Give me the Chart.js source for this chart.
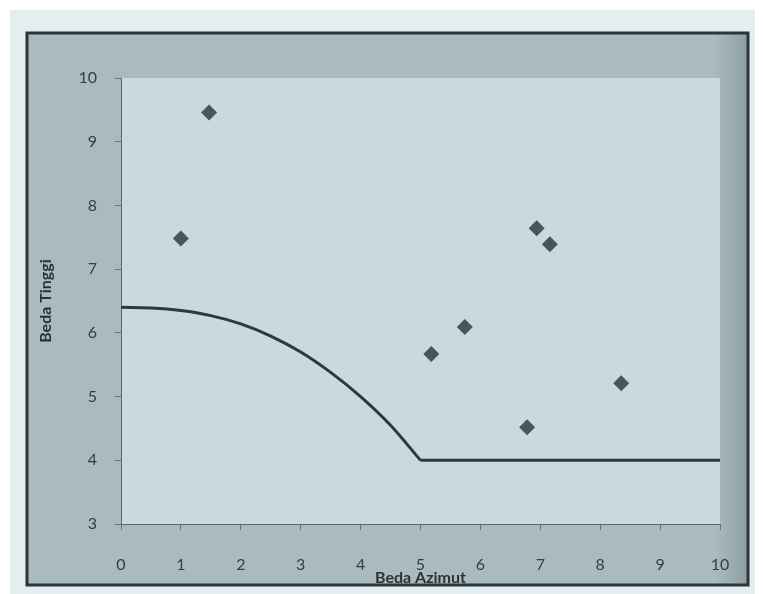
<!DOCTYPE html>
<html>
<head>
<meta charset="utf-8">
<script src="https://cdn.jsdelivr.net/npm/chart.js@4.4.0/dist/chart.umd.min.js"></script>
<style>
  html, body { margin: 0; padding: 0; background: #ffffff; }
  #chart { display: block; }
</style>
</head>
<body>
<canvas id="chart" width="763" height="594"></canvas>
<script>
// measured points (Beda Azimut, Beda Tinggi)
const pointX = [1.0, 1.47, 5.18, 5.74, 6.94, 7.16, 6.78, 8.35];
const pointY = [7.48, 9.46, 5.67, 6.09, 7.64, 7.39, 4.52, 5.21];

// boundary curve
const curveX = [0, 0.5, 1, 1.5, 2, 2.5, 3, 3.5, 4, 4.5, 5];
const curveY = [6.4, 6.39, 6.35, 6.27, 6.14, 5.95, 5.7, 5.38, 5.0, 4.55, 4.0];
const flatX = [5, 10];
const flatY = [4, 4];

const xTicks = [0, 1, 2, 3, 4, 5, 6, 7, 8, 9, 10];
const yTicks = [3, 4, 5, 6, 7, 8, 9, 10];

function toXY(xs, ys) {
  return xs.map((x, i) => ({ x: x, y: ys[i] }));
}

const framePlugin = {
  id: 'frame',
  beforeDraw(chart) {
    const ctx = chart.ctx;
    const a = chart.chartArea;
    ctx.save();
    ctx.fillStyle = '#ffffff';
    ctx.fillRect(0, 0, chart.width, chart.height);
    ctx.fillStyle = '#e3eef0';
    ctx.fillRect(10, 10, 745, 584);
    ctx.fillStyle = '#a9bbbf';
    ctx.fillRect(27, 33, 721, 552);
    // darker band along the right edge of the frame
    const g = ctx.createLinearGradient(715, 0, 748, 0);
    g.addColorStop(0, 'rgba(120,138,143,0)');
    g.addColorStop(1, 'rgba(120,138,143,0.6)');
    ctx.fillStyle = g;
    ctx.fillRect(715, 33, 33, 552);
    ctx.lineWidth = 3;
    ctx.strokeStyle = '#2c3437';
    ctx.strokeRect(27, 33, 721, 552);
    ctx.fillStyle = '#c8dadd';
    ctx.fillRect(a.left, a.top, a.right - a.left, a.bottom - a.top);
    ctx.restore();
  }
};

const ctx = document.getElementById('chart').getContext('2d');
new Chart(ctx, {
  type: 'scatter',
  data: {
    datasets: [
      {
        data: toXY(pointX, pointY),
        pointStyle: 'rectRot',
        pointRadius: 8,
        backgroundColor: '#4a5558',
        borderWidth: 0,
        showLine: false
      },
      {
        data: toXY(curveX, curveY),
        showLine: true,
        pointRadius: 0,
        borderColor: '#2d393d',
        borderWidth: 3,
        cubicInterpolationMode: 'monotone'
      },
      {
        data: toXY(flatX, flatY),
        showLine: true,
        pointRadius: 0,
        borderColor: '#2d393d',
        borderWidth: 3,
        tension: 0
      }
    ]
  },
  options: {
    responsive: false,
    animation: false,
    layout: { padding: { left: 0, top: 78, right: 43, bottom: 0 } },
    plugins: {
      legend: { display: false },
      tooltip: { enabled: false }
    },
    scales: {
      x: {
        type: 'linear',
        min: 0,
        max: 10,
        afterBuildTicks: s => { s.ticks = xTicks.map(v => ({ value: v })); },
        afterFit: s => { s.height = 70; },
        grid: { drawOnChartArea: false, tickLength: 6, color: '#66767a' },
        border: { color: '#5a686c', width: 1 },
        ticks: {
          padding: 25,
          color: '#353e41',
          font: { family: 'Lato', size: 16 }
        },
        title: {
          display: true,
          text: 'Beda Azimut',
          color: '#2b3235',
          font: { family: 'Lato', size: 16, weight: 'bold' },
          padding: { top: 0, bottom: 7 }
        }
      },
      y: {
        min: 3,
        max: 10,
        afterBuildTicks: s => { s.ticks = yTicks.map(v => ({ value: v })); },
        afterFit: s => { s.width = 121; },
        grid: { drawOnChartArea: false, tickLength: 6, color: '#66767a' },
        border: { color: '#5a686c', width: 1 },
        ticks: {
          padding: 18,
          color: '#353e41',
          font: { family: 'Lato', size: 16 }
        },
        title: {
          display: true,
          text: 'Beda Tinggi',
          color: '#2b3235',
          font: { family: 'Lato', size: 16, weight: 'bold' },
          padding: { top: 36, bottom: 0 }
        }
      }
    }
  },
  plugins: [framePlugin]
});
</script>
</body>
</html>
